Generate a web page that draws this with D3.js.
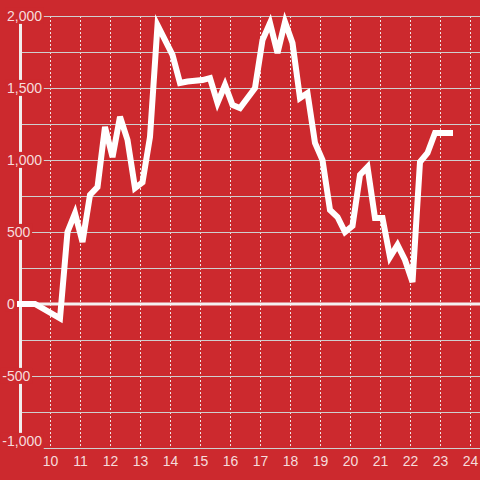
<!DOCTYPE html>
<html><head><meta charset="utf-8">
<script src="https://cdn.jsdelivr.net/npm/d3@7"></script>
<style>html,body{margin:0;padding:0;background:#cc292e;}svg{display:block;font-family:"Liberation Sans",Arial,sans-serif;}</style>
</head><body>
<script>
const times = ["9:00","9:30","10:20","10:35","10:50","11:05","11:20","11:35","11:50","12:05","12:20","12:35","12:50","13:05","13:20","13:35","14:05","14:20","14:35","14:50","15:05","15:20","15:35","15:50","16:05","16:20","16:50","17:05","17:20","17:35","17:50","18:05","18:20","18:35","18:50","19:05","19:20","19:35","19:50","20:05","20:20","20:35","20:50","21:05","21:20","21:35","21:50","22:05","22:20","22:35","22:50","23:05","23:20"];
const values = [0,0,-100,500,630,430,757,812,1230,1020,1300,1140,805,845,1160,1937,1730,1535,1545,1550,1555,1569,1396,1521,1382,1361,1500,1833,1951,1743,1958,1812,1430,1465,1118,1000,653,604,500,542,896,951,597,597,326,410,306,153,986,1049,1188,1188,1188];
const xTicks = [10,11,12,13,14,15,16,17,18,19,20,21,22,23,24];
const yGrid = [-1000,-750,-500,-250,0,250,500,750,1000,1250,1500,1750,2000];
const yLabels = [-1000,-500,0,500,1000,1500,2000];

const W = 480, H = 480, bg = "#cc292e";
const toHours = s => { const [h,m] = s.split(":").map(Number); return h + m/60; };
const data = times.map((t,i) => ({t: toHours(t), v: values[i]}));

const x = d3.scaleLinear().domain([9, 24]).range([20, 470]);
const y = d3.scaleLinear().domain([-1000, 2000]).range([448, 16]);

const svg = d3.select("body").append("svg").attr("width", W).attr("height", H);
svg.append("rect").attr("width", W).attr("height", H).attr("fill", bg);

// vertical dotted grid
svg.append("g").selectAll("line").data(xTicks).join("line")
  .attr("x1", d => x(d) + 0.5).attr("x2", d => x(d) + 0.5)
  .attr("y1", y(2000)).attr("y2", y(-1000) - 2)
  .attr("stroke", "#f0e4e4").attr("stroke-width", 1).attr("stroke-dasharray", "2,2");

// horizontal grid
svg.append("g").selectAll("line").data(yGrid.filter(d => d !== 0)).join("line")
  .attr("x1", 20).attr("x2", W)
  .attr("y1", d => y(d) + 0.5).attr("y2", d => y(d) + 0.5)
  .attr("stroke", "#cfcfcf").attr("stroke-width", 1.2);

// left axis bar
svg.append("line").attr("x1", x(9) + 0.5).attr("x2", x(9) + 0.5)
  .attr("y1", y(2000)).attr("y2", y(-1000) - 12)
  .attr("stroke", "#f2eeee").attr("stroke-width", 3);

// zero line
svg.append("line").attr("x1", 17).attr("x2", W)
  .attr("y1", y(0)).attr("y2", y(0))
  .attr("stroke", "#f4f0f0").attr("stroke-width", 3);

// y labels with background
const fmt = d3.format(",");
const yl = svg.append("g").selectAll("g").data(yLabels).join("g");
yl.each(function(d) {
  const g = d3.select(this);
  const txt = fmt(d).replace("\u2212", "-");
  const ty = d === -1000 ? y(d) - 7 : y(d);
  const t = g.append("text").attr("x", d < 0 ? 2.3 : 7).attr("y", ty)
    .attr("dy", "0.35em").attr("font-size", 14).attr("fill", "#f6dcdc").text(txt);
  const b = t.node().getBBox();
  g.insert("rect", "text").attr("x", b.x - 1.5).attr("y", b.y)
    .attr("width", b.width + 3).attr("height", Math.max(b.height, y(d) + 2 - b.y)).attr("fill", bg);
});

// data line
svg.append("path").datum(data)
  .attr("fill", "none").attr("stroke", "#ffffff").attr("stroke-width", 6)
  .attr("stroke-linejoin", "miter").attr("stroke-linecap", "square")
  .attr("d", d3.line().x(d => x(d.t)).y(d => y(d.v)));

// x axis labels
const xa = svg.append("g").attr("transform", `translate(0,${y(-1000)})`)
  .call(d3.axisBottom(x).tickValues(xTicks).tickSize(0).tickPadding(8).tickFormat(d3.format("d")));
xa.select(".domain").remove();
xa.selectAll("text").attr("font-size", 14).attr("fill", "#f6dcdc")
  .attr("font-family", "Liberation Sans, Arial, sans-serif");
</script>
</body></html>
